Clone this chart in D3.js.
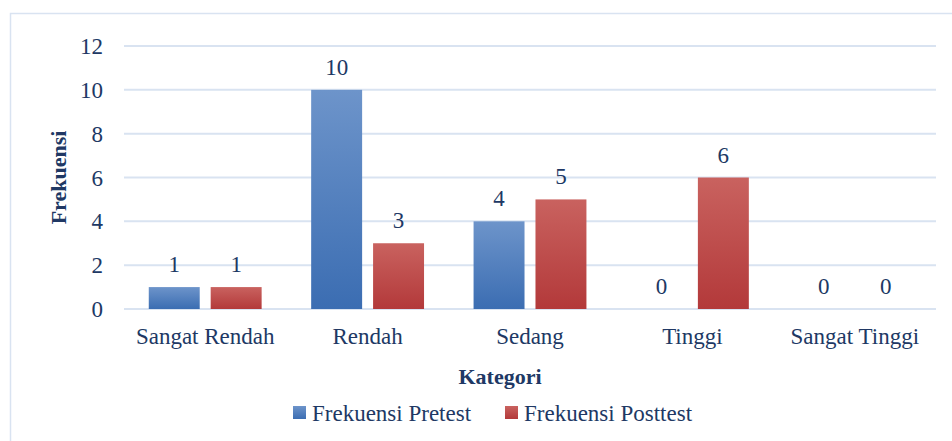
<!DOCTYPE html>
<html>
<head>
<meta charset="utf-8">
<script src="https://cdn.jsdelivr.net/npm/d3@7"></script>
<style>
  body { margin: 0; background: #fff; }
  text { font-family: 'Liberation Serif', 'DejaVu Serif', serif; fill: #203864; }
</style>
</head>
<body>
<svg id="chart" width="952" height="441"></svg>
<script>
// CHART DATA
const categories = ['Sangat Rendah', 'Rendah', 'Sedang', 'Tinggi', 'Sangat Tinggi'];
const pretest = [1, 10, 4, 0, 0];
const posttest = [1, 3, 5, 6, 0];
const seriesNames = ['Frekuensi Pretest', 'Frekuensi Posttest'];
const yTicks = [0, 2, 4, 6, 8, 10, 12];

const svg = d3.select('#chart');
const margin = { left: 124, right: 16, top: 46, bottom: 132 };
const width = 952;
const height = 441;

// gradients for the bars
const defs = svg.append('defs');
const grads = [
  { id: 'gBlue', top: '#6d94ca', bottom: '#3b6db2' },
  { id: 'gRed', top: '#c9625f', bottom: '#b3393a' },
];
grads.forEach((g) => {
  const lg = defs.append('linearGradient')
    .attr('id', g.id).attr('x1', 0).attr('y1', 0).attr('x2', 0).attr('y2', 1);
  lg.append('stop').attr('offset', '0%').attr('stop-color', g.top);
  lg.append('stop').attr('offset', '100%').attr('stop-color', g.bottom);
});

// outer frame
svg.append('rect')
  .attr('x', 10.5).attr('y', 13.5)
  .attr('width', 960).attr('height', 450)
  .attr('fill', 'none')
  .attr('stroke', '#d9e3f1')
  .attr('stroke-width', 1.5);

const x = d3.scaleBand()
  .domain(categories)
  .range([margin.left, width - margin.right]);

const x1 = d3.scaleBand()
  .domain([0, 1])
  .range([0, x.bandwidth()])
  .paddingInner(0.177)
  .paddingOuter(0.4);

const y = d3.scaleLinear()
  .domain([0, 12])
  .range([height - margin.bottom, margin.top]);

// gridlines
svg.append('g')
  .selectAll('line')
  .data(yTicks)
  .join('line')
  .attr('x1', margin.left)
  .attr('x2', width - margin.right)
  .attr('y1', (d) => y(d))
  .attr('y2', (d) => y(d))
  .attr('stroke', '#d9e3f1')
  .attr('stroke-width', 2);

// y tick labels
svg.append('g')
  .selectAll('text')
  .data(yTicks)
  .join('text')
  .attr('x', 103)
  .attr('y', (d) => y(d))
  .attr('dy', '0.35em')
  .attr('text-anchor', 'end')
  .attr('font-size', 23)
  .text((d) => d);

// bars
const series = [pretest, posttest];
const fills = ['url(#gBlue)', 'url(#gRed)'];
series.forEach((values, s) => {
  const g = svg.append('g');
  g.selectAll('rect')
    .data(values)
    .join('rect')
    .attr('x', (d, i) => x(categories[i]) + x1(s))
    .attr('y', (d) => y(d))
    .attr('width', x1.bandwidth())
    .attr('height', (d) => y(0) - y(d))
    .attr('fill', fills[s]);

  g.selectAll('text')
    .data(values)
    .join('text')
    .attr('x', (d, i) => x(categories[i]) + x1(s) + x1.bandwidth() / 2)
    .attr('y', (d) => y(d) - 15)
    .attr('text-anchor', 'middle')
    .attr('font-size', 23)
    .text((d) => d);
});

// category labels
svg.append('g')
  .selectAll('text')
  .data(categories)
  .join('text')
  .attr('x', (d) => x(d) + x.bandwidth() / 2)
  .attr('y', 344)
  .attr('text-anchor', 'middle')
  .attr('font-size', 23)
  .text((d) => d);

// axis titles
svg.append('text')
  .attr('x', x(categories[2]) + x.bandwidth() / 2 - 30)
  .attr('y', 384)
  .attr('text-anchor', 'middle')
  .attr('font-size', 22)
  .attr('font-weight', 'bold')
  .text('Kategori');

svg.append('text')
  .attr('transform', `translate(66, ${y(6)}) rotate(-90)`)
  .attr('text-anchor', 'middle')
  .attr('font-size', 22)
  .attr('font-weight', 'bold')
  .text('Frekuensi');

// legend
const legendX = [293, 505];
const legend = svg.append('g')
  .selectAll('g')
  .data(seriesNames)
  .join('g')
  .attr('transform', (d, i) => `translate(${legendX[i]}, 413)`);

legend.append('rect')
  .attr('x', 0).attr('y', -7)
  .attr('width', 13).attr('height', 13)
  .attr('fill', (d, i) => fills[i]);

legend.append('text')
  .attr('x', 19)
  .attr('dy', '0.35em')
  .attr('font-size', 23)
  .text((d) => d);
</script>
</body>
</html>
